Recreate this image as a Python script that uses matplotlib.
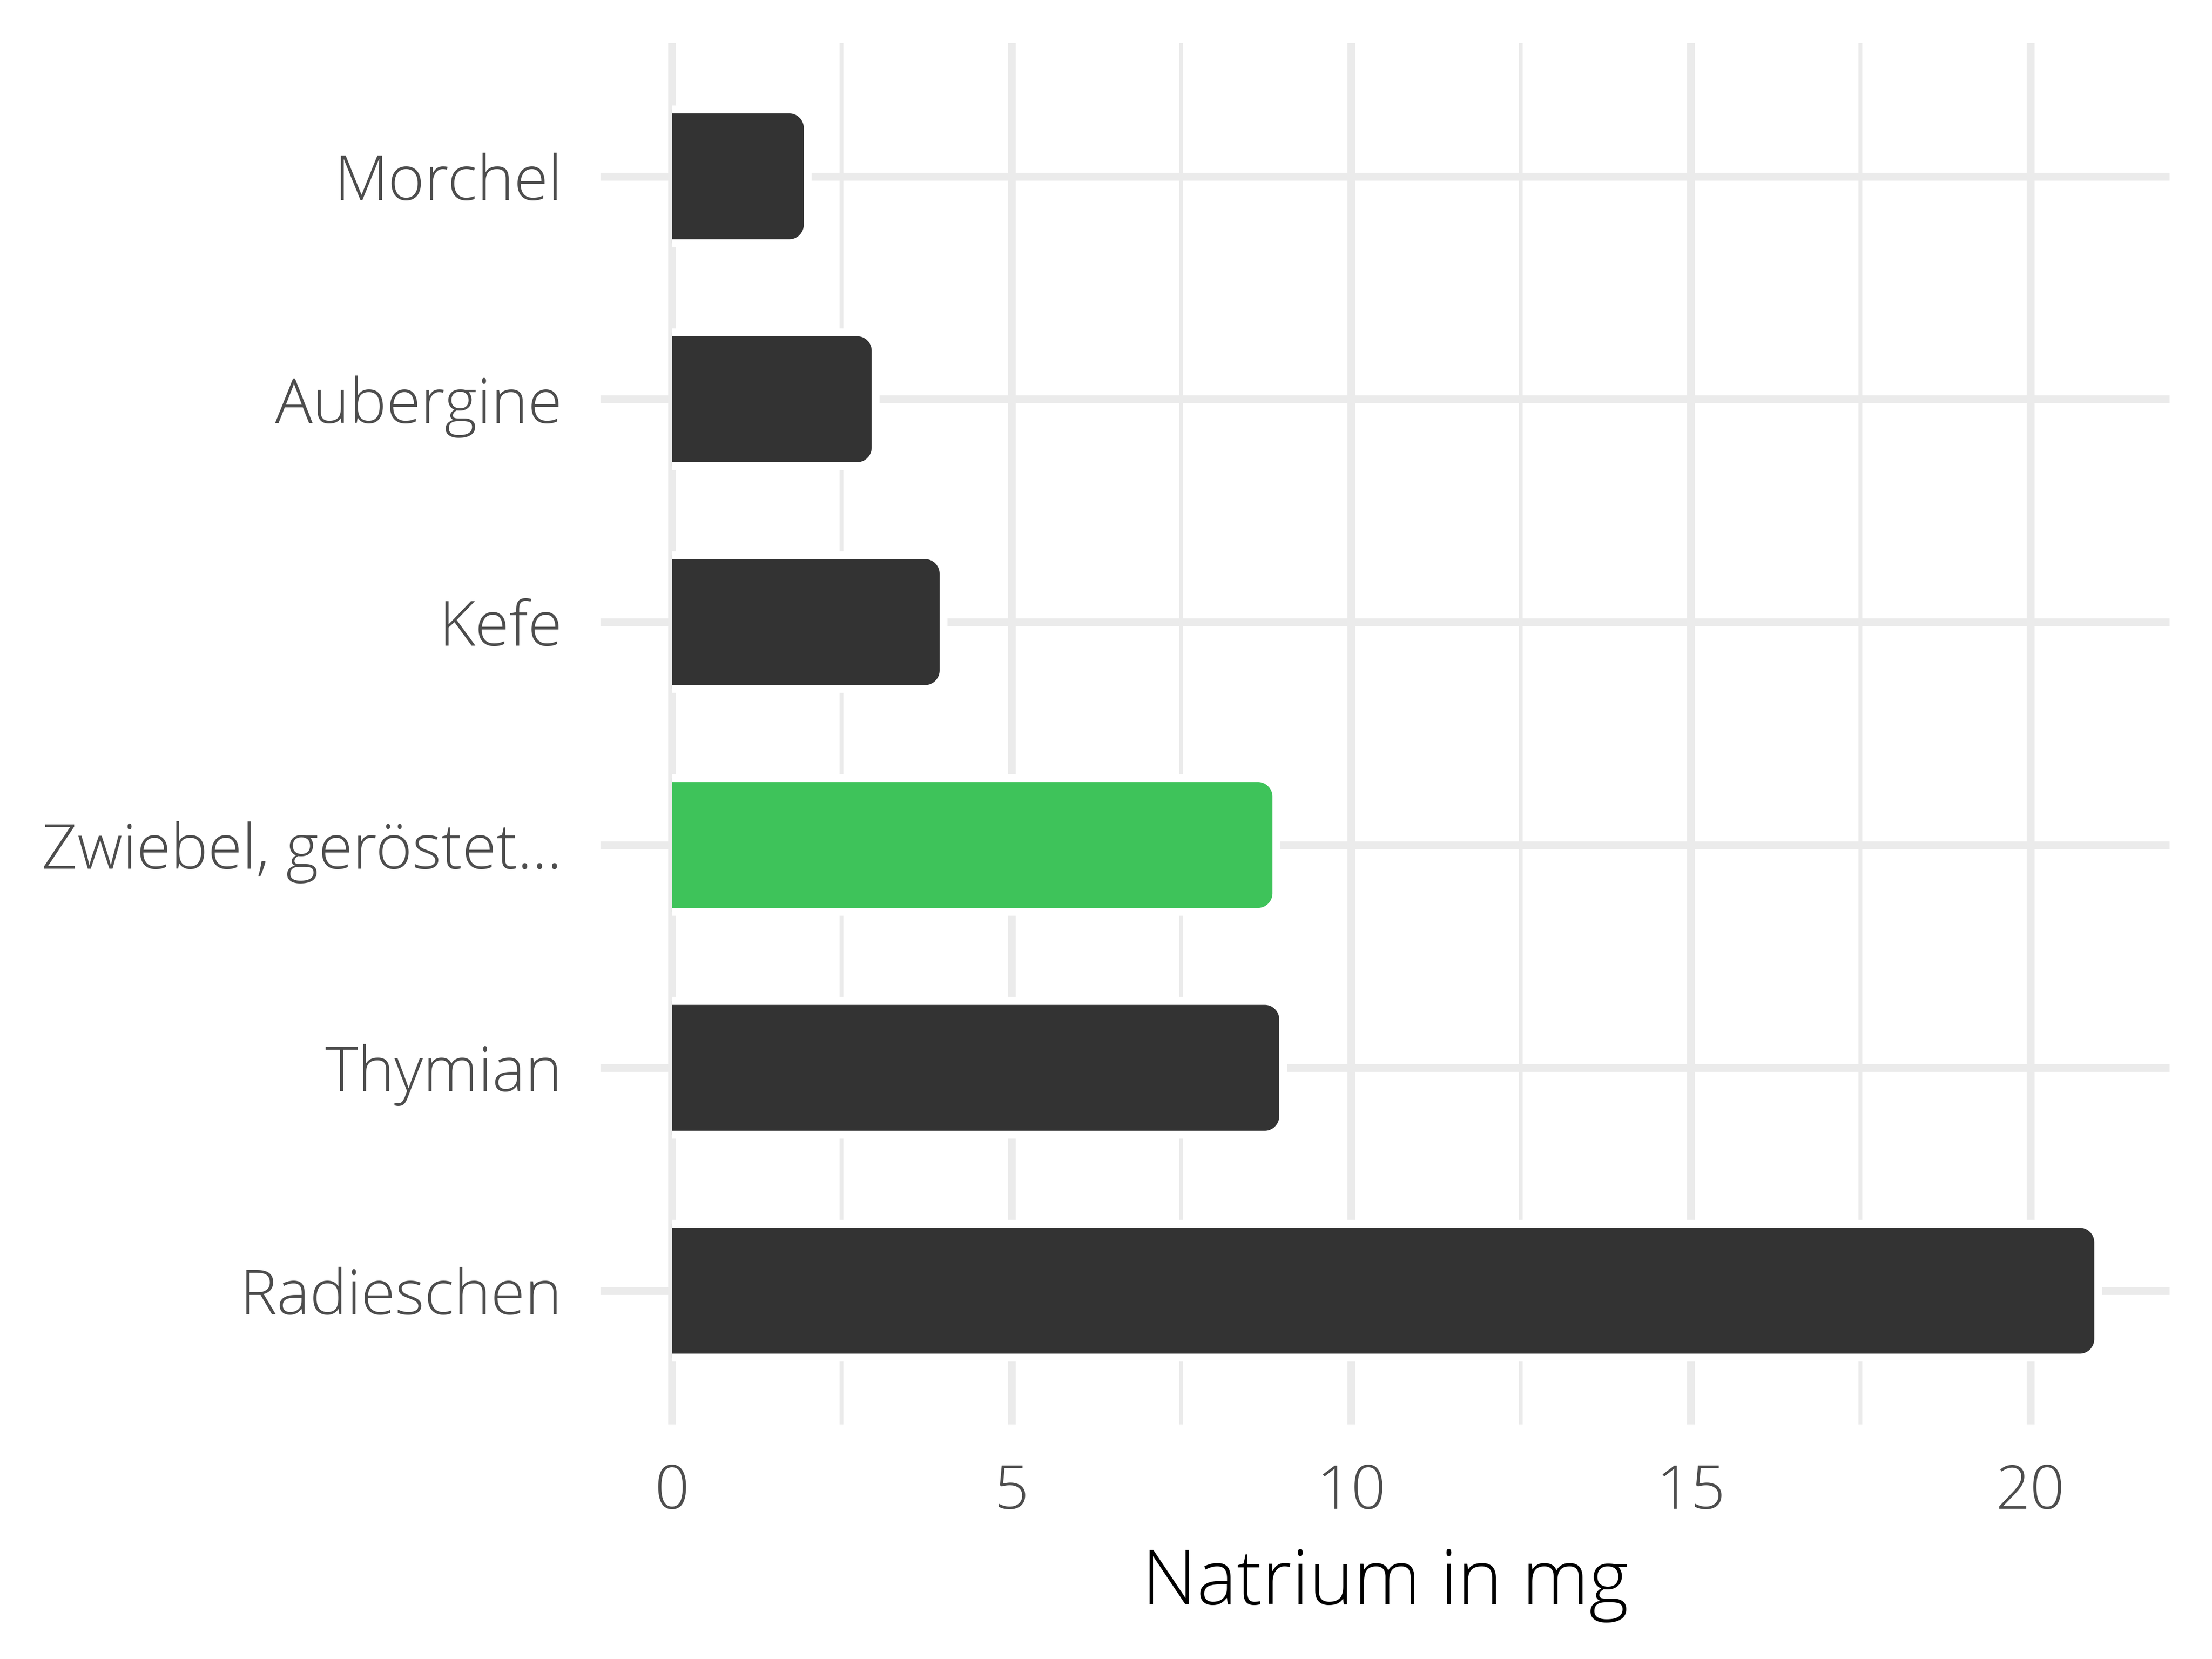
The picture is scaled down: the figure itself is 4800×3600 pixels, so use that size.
import matplotlib
matplotlib.use('Agg')
import matplotlib.pyplot as plt
from matplotlib.path import Path
from matplotlib.patches import PathPatch

foods = ['Radieschen', 'Thymian', 'Zwiebel, geröstet...', 'Kefe', 'Aubergine', 'Morchel']
natrium = [21, 9, 8.9, 4, 3, 2]
colors = ['#333333', '#333333', '#3ec35a', '#333333', '#333333', '#333333']
xticks = [0, 5, 10, 15, 20]
xminor = [2.5, 7.5, 12.5, 17.5]

plt.rcParams['font.family'] = ['Open Sans', 'DejaVu Sans']

fig = plt.figure(figsize=(16, 12), dpi=300)
ax = fig.add_axes([0.2715, 0.1414, 0.9808 - 0.2715, 0.9743 - 0.1414])

ypos = list(range(1, len(foods) + 1))
bars = ax.barh(ypos, natrium, height=0.6, color=colors, zorder=3)

ax.set_xlim(-1.05, 22.05)
ax.set_ylim(0.4, 6.6)

# rounded right end, white outline (like ggchicklet)
rx = 0.27
ry = 0.083
k = 0.5523
for b in bars:
    x0, y0 = b.get_x(), b.get_y()
    x1, y1 = x0 + b.get_width(), y0 + b.get_height()
    verts = [(x0, y0), (x1 - rx, y0),
             (x1 - rx + k * rx, y0), (x1, y0 + ry - k * ry), (x1, y0 + ry),
             (x1, y1 - ry),
             (x1, y1 - ry + k * ry), (x1 - rx + k * rx, y1), (x1 - rx, y1),
             (x0, y1)]
    codes = [Path.MOVETO, Path.LINETO,
             Path.CURVE4, Path.CURVE4, Path.CURVE4,
             Path.LINETO,
             Path.CURVE4, Path.CURVE4, Path.CURVE4,
             Path.LINETO]
    fill = PathPatch(Path(verts + [(x0, y0)], codes + [Path.CLOSEPOLY]),
                     facecolor=b.get_facecolor(), edgecolor='none', zorder=3)
    edge = PathPatch(Path(verts, codes), facecolor='none', edgecolor='white',
                     linewidth=4.1, zorder=4, capstyle='butt')
    ax.add_patch(fill)
    ax.add_patch(edge)
    b.remove()

ax.set_xticks(xticks)
ax.set_xticks(xminor, minor=True)
ax.set_yticks(ypos)
ax.set_yticklabels(foods)
ax.grid(True, which='major', color='#ebebeb', linewidth=4.1, zorder=0)
ax.grid(True, which='minor', axis='x', color='#ebebeb', linewidth=2.0, zorder=0)
ax.set_axisbelow(True)
for s in ax.spines.values():
    s.set_visible(False)
ax.tick_params(axis='both', which='both', length=0)
ax.tick_params(axis='y', pad=20, labelsize=32.5, labelcolor='#4d4d4d')
ax.tick_params(axis='x', pad=20, labelsize=31.5, labelcolor='#4d4d4d')
for t in ax.get_xticklabels() + ax.get_yticklabels():
    t.set_fontweight('light')
ax.set_xlabel('Natrium in mg', fontsize=39.5, color='black', fontweight='light', labelpad=12)

fig.savefig('out.png', dpi=300, facecolor='white')
